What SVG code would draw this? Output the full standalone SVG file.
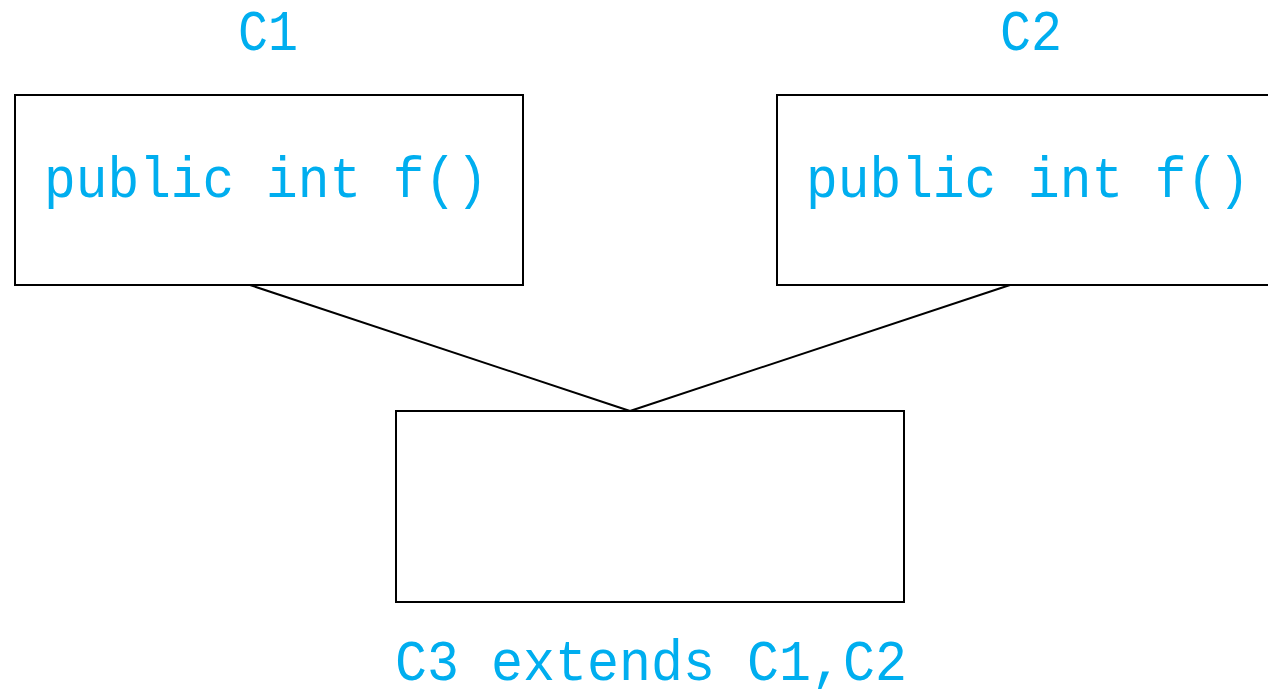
<svg xmlns="http://www.w3.org/2000/svg" width="1268" height="689" viewBox="0 0 1268 689">
<style>
.box{fill:#fff;stroke:#000;stroke-width:2}
.lbl{font-family:"Liberation Mono","DejaVu Sans Mono",monospace;fill:#00AEEF;text-anchor:middle;font-size:58px}
.conn{stroke:#000;stroke-width:2;fill:none}
</style>
<rect width="1268" height="689" fill="#fff"/>
<g id="connectors">
<line class="conn" x1="250" y1="285" x2="630" y2="411"/>
<line class="conn" x1="1010" y1="285" x2="630" y2="411"/>
</g>
<g id="C1">
<text class="lbl" x="268" y="50" textLength="60" lengthAdjust="spacingAndGlyphs">C1</text>
<rect class="box" x="15" y="95" width="508" height="190"/>
<text class="lbl" x="266" y="197" textLength="444" lengthAdjust="spacingAndGlyphs">public int f()</text>
</g>
<g id="C2">
<text class="lbl" x="1031" y="50" textLength="62" lengthAdjust="spacingAndGlyphs">C2</text>
<rect class="box" x="777" y="95" width="508" height="190"/>
<text class="lbl" x="1028" y="197" textLength="444" lengthAdjust="spacingAndGlyphs">public int f()</text>
</g>
<g id="C3">
<rect class="box" x="396" y="411" width="508" height="191"/>
<text class="lbl" x="651" y="680" textLength="512" lengthAdjust="spacingAndGlyphs">C3 extends C1,C2</text>
</g>
</svg>
